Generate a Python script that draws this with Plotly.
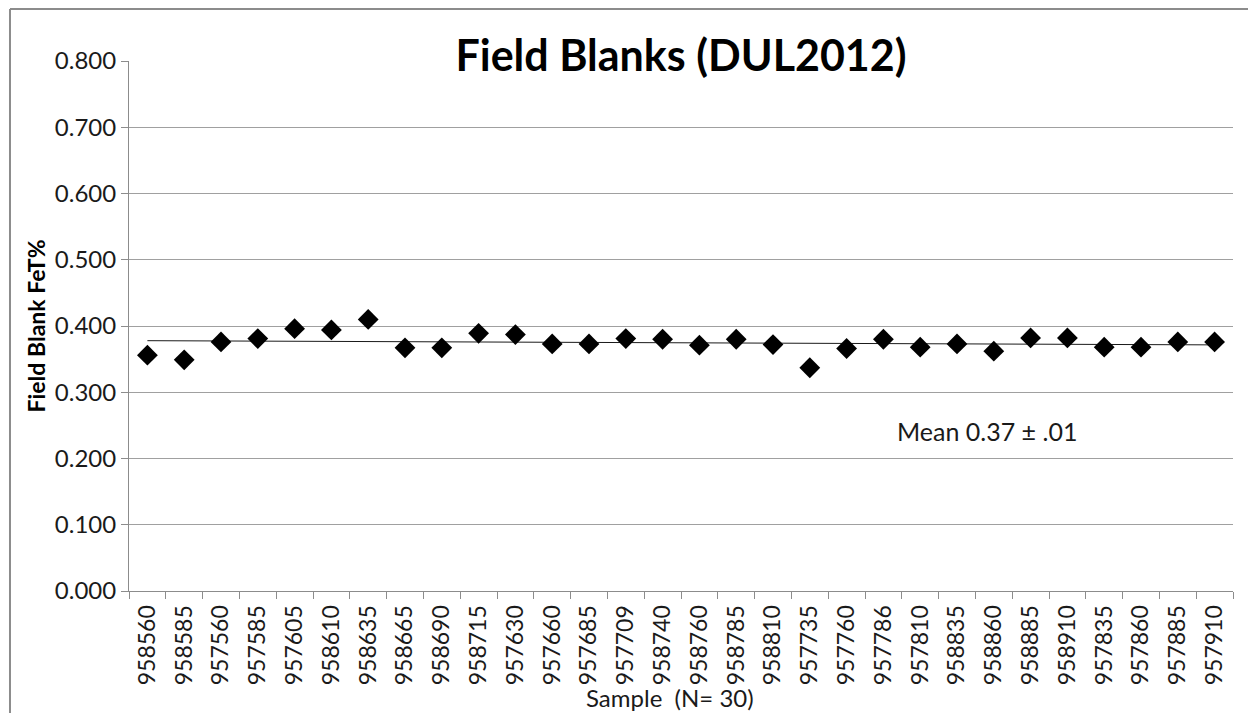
import numpy as np
import plotly.graph_objects as go

samples = ["958560", "958585", "957560", "957585", "957605", "958610", "958635", "958665",
           "958690", "958715", "957630", "957660", "957685", "957709", "958740", "958760",
           "958785", "958810", "957735", "957760", "957786", "957810", "958835", "958860",
           "958885", "958910", "957835", "957860", "957885", "957910"]
fet_values = [0.356, 0.349, 0.376, 0.381, 0.396, 0.394, 0.410, 0.367,
              0.367, 0.389, 0.387, 0.373, 0.373, 0.381, 0.380, 0.371,
              0.380, 0.372, 0.337, 0.366, 0.380, 0.368, 0.373, 0.362,
              0.382, 0.382, 0.368, 0.368, 0.376, 0.376]
y_ticks = [0.0, 0.1, 0.2, 0.3, 0.4, 0.5, 0.6, 0.7, 0.8]
mean_label = "Mean 0.37 ± .01"
x_title = "Sample  (N= 30)"

FONT = "Lato"
TXT = "#1a1a1a"
idx = np.arange(len(fet_values))
slope, intercept = np.polyfit(idx, fet_values, 1)
trend = slope * idx + intercept

fig = go.Figure()
fig.add_trace(go.Scatter(
    x=samples, y=trend, mode="lines",
    line=dict(color="#1a1a1a", width=1), hoverinfo="skip", showlegend=False))
fig.add_trace(go.Scatter(
    x=samples, y=fet_values, mode="markers",
    marker=dict(symbol="diamond", size=16, color="black"),
    showlegend=False))

fig.update_layout(
    width=1240, height=705,
    margin=dict(l=121, r=15, t=53, b=122),
    paper_bgcolor="white", plot_bgcolor="white",
    font=dict(family=FONT, color=TXT),
    title=dict(text="<b>Field Blanks (DUL2012)</b>", font=dict(family=FONT, size=43, color="black"),
               x=0.5, xref="paper", xanchor="center", y=0.932, yref="container", yanchor="middle"),
    xaxis=dict(
        type="category", range=[-0.5, len(samples) - 0.5], automargin=False,
        tickangle=-90, tickfont=dict(family=FONT, size=23, color=TXT),
        tickson="boundaries", ticks="outside", ticklen=7, tickcolor="#8c8c8c",
        ticklabelstandoff=4,
        showline=True, linecolor="#8c8c8c", linewidth=1,
        showgrid=False, zeroline=False,
    ),
    yaxis=dict(
        range=[0, 0.8], tickvals=y_ticks, tickformat=".3f", automargin=False,
        tickfont=dict(family=FONT, size=24, color=TXT),
        ticks="outside", ticklen=7, tickcolor="#8c8c8c",
        showline=True, linecolor="#8c8c8c", linewidth=1,
        showgrid=True, gridcolor="#a0a0a0", gridwidth=1, zeroline=False,
        title=dict(text="<b>Field Blank FeT%</b>", font=dict(family=FONT, size=23, color="black"), standoff=2),
    ),
    annotations=[
        dict(text=mean_label, xref="paper", yref="y", x=0.694, y=0.2415,
             xanchor="left", yanchor="middle", showarrow=False,
             font=dict(family=FONT, size=25, color=TXT)),
        dict(text=x_title, xref="paper", yref="paper", x=0.49, y=-0.2,
             xanchor="center", yanchor="middle", showarrow=False,
             font=dict(family=FONT, size=24, color=TXT)),
    ],
    shapes=[
        dict(type="line", xref="paper", yref="paper",
             x0=-0.1078, x1=-0.1078, y0=-0.5, y1=1.098,
             line=dict(color="#8c8c8c", width=2), layer="below"),
        dict(type="line", xref="paper", yref="paper",
             x0=-0.1078, x1=1.3, y0=1.098, y1=1.098,
             line=dict(color="#8c8c8c", width=2), layer="below"),
    ],
)

fig.write_html("out.html")
